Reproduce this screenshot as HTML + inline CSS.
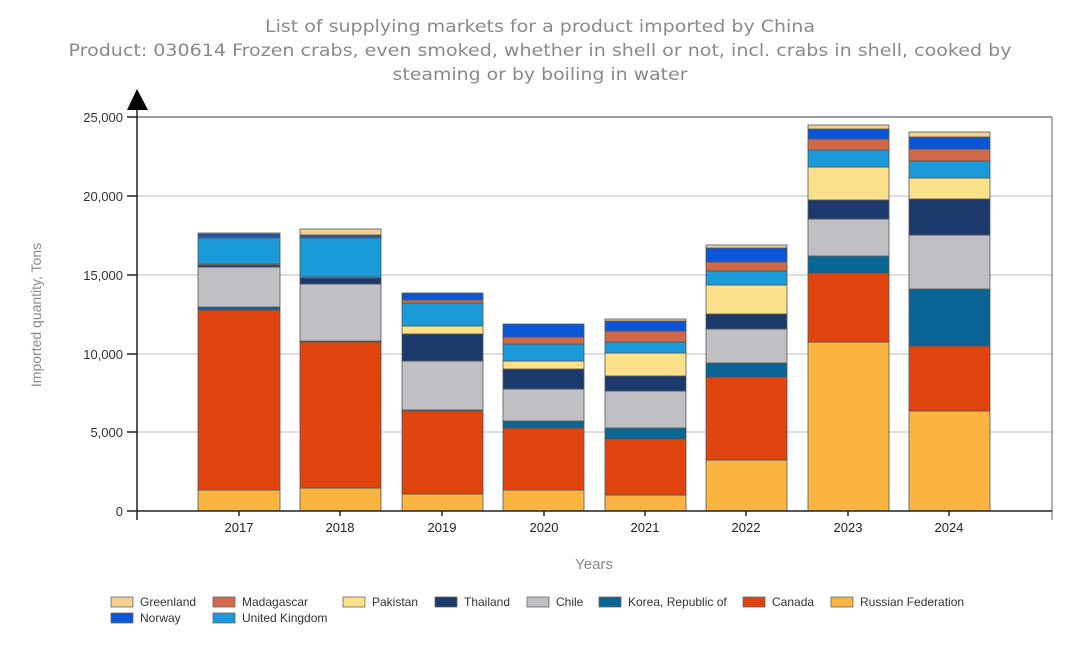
<!DOCTYPE html>
<html><head><meta charset="utf-8"><style>body{margin:0;background:#fff}svg{display:block}</style></head><body>
<svg width="1080" height="648" viewBox="0 0 1080 648" xmlns="http://www.w3.org/2000/svg" font-family="Liberation Sans, sans-serif">
<rect width="1080" height="648" fill="#fff"/>
<g fill="#8a8a8a" font-size="17" font-family="DejaVu Sans, sans-serif" text-anchor="middle">
<text x="540" y="32" textLength="550" lengthAdjust="spacingAndGlyphs">List of supplying markets for a product imported by China</text>
<text x="540" y="56" textLength="943" lengthAdjust="spacingAndGlyphs">Product: 030614 Frozen crabs, even smoked, whether in shell or not, incl. crabs in shell, cooked by</text>
<text x="540" y="80" textLength="295" lengthAdjust="spacingAndGlyphs">steaming or by boiling in water</text>
</g>
<g stroke="#d4d4d4" stroke-width="1.5">
<line x1="137" y1="196" x2="1052" y2="196"/><line x1="137" y1="275" x2="1052" y2="275"/><line x1="137" y1="354" x2="1052" y2="354"/><line x1="137" y1="432" x2="1052" y2="432"/>
</g>
<line x1="137" y1="117" x2="1052" y2="117" stroke="#7a7f8a" stroke-width="1.5"/>
<line x1="1052" y1="117" x2="1052" y2="520" stroke="#7a7f8a" stroke-width="1.2"/>
<g stroke="#555" stroke-width="0.8">
<g fill="#fbb440"><rect x="198" y="490" width="82" height="21"/><rect x="300" y="488" width="81" height="23"/><rect x="402" y="494" width="81" height="17"/><rect x="503" y="490" width="81" height="21"/><rect x="605" y="495" width="81" height="16"/><rect x="706" y="460" width="81" height="51"/><rect x="808" y="342" width="81" height="169"/><rect x="909" y="411" width="81" height="100"/></g>
<g fill="#e0440e"><rect x="198" y="310" width="82" height="180"/><rect x="300" y="342" width="81" height="146"/><rect x="402" y="411" width="81" height="83"/><rect x="503" y="428" width="81" height="62"/><rect x="605" y="439" width="81" height="56"/><rect x="706" y="377" width="81" height="83"/><rect x="808" y="273" width="81" height="69"/><rect x="909" y="346" width="81" height="65"/></g>
<g fill="#0a6595"><rect x="198" y="307" width="82" height="3"/><rect x="300" y="341" width="81" height="1"/><rect x="402" y="410" width="81" height="1"/><rect x="503" y="421" width="81" height="7"/><rect x="605" y="428" width="81" height="11"/><rect x="706" y="363" width="81" height="14"/><rect x="808" y="256" width="81" height="17"/><rect x="909" y="289" width="81" height="57"/></g>
<g fill="#c0c0c4"><rect x="198" y="267" width="82" height="40"/><rect x="300" y="284" width="81" height="57"/><rect x="402" y="361" width="81" height="49"/><rect x="503" y="389" width="81" height="32"/><rect x="605" y="391" width="81" height="37"/><rect x="706" y="329" width="81" height="34"/><rect x="808" y="219" width="81" height="37"/><rect x="909" y="235" width="81" height="54"/></g>
<g fill="#1b3a6b"><rect x="198" y="265" width="82" height="2"/><rect x="300" y="278" width="81" height="6"/><rect x="402" y="334" width="81" height="27"/><rect x="503" y="369" width="81" height="20"/><rect x="605" y="376" width="81" height="15"/><rect x="706" y="314" width="81" height="15"/><rect x="808" y="200" width="81" height="19"/><rect x="909" y="199" width="81" height="36"/></g>
<g fill="#fce18a"><rect x="198" y="264" width="82" height="1"/><rect x="300" y="277" width="81" height="1"/><rect x="402" y="326" width="81" height="8"/><rect x="503" y="361" width="81" height="8"/><rect x="605" y="353" width="81" height="23"/><rect x="706" y="285" width="81" height="29"/><rect x="808" y="167" width="81" height="33"/><rect x="909" y="178" width="81" height="21"/></g>
<g fill="#1a9ad8"><rect x="198" y="238" width="82" height="26"/><rect x="300" y="238" width="81" height="39"/><rect x="402" y="303" width="81" height="23"/><rect x="503" y="344" width="81" height="17"/><rect x="605" y="342" width="81" height="11"/><rect x="706" y="271" width="81" height="14"/><rect x="808" y="150" width="81" height="17"/><rect x="909" y="161" width="81" height="17"/></g>
<g fill="#d0694a"><rect x="198" y="237" width="82" height="1"/><rect x="300" y="237" width="81" height="1"/><rect x="402" y="300" width="81" height="3"/><rect x="503" y="337" width="81" height="7"/><rect x="605" y="331" width="81" height="11"/><rect x="706" y="262" width="81" height="9"/><rect x="808" y="139" width="81" height="11"/><rect x="909" y="149" width="81" height="12"/></g>
<g fill="#0a55d8"><rect x="198" y="234" width="82" height="3"/><rect x="300" y="235" width="81" height="2"/><rect x="402" y="293" width="81" height="7"/><rect x="503" y="324" width="81" height="13"/><rect x="605" y="321" width="81" height="10"/><rect x="706" y="248" width="81" height="14"/><rect x="808" y="129" width="81" height="10"/><rect x="909" y="137" width="81" height="12"/></g>
<g fill="#f2d08f"><rect x="198" y="233" width="82" height="1"/><rect x="300" y="229" width="81" height="6"/><rect x="605" y="319" width="81" height="2"/><rect x="706" y="245" width="81" height="3"/><rect x="808" y="125" width="81" height="4"/><rect x="909" y="132" width="81" height="5"/></g>
</g>
<g stroke="#222" stroke-width="1.5">
<line x1="137" y1="100" x2="137" y2="520"/>
<line x1="127" y1="511" x2="1052" y2="511"/>
<line x1="127" y1="117" x2="137" y2="117"/><line x1="127" y1="196" x2="137" y2="196"/><line x1="127" y1="275" x2="137" y2="275"/><line x1="127" y1="354" x2="137" y2="354"/><line x1="127" y1="432" x2="137" y2="432"/>
<line x1="239" y1="511" x2="239" y2="516"/><line x1="340" y1="511" x2="340" y2="516"/><line x1="442" y1="511" x2="442" y2="516"/><line x1="544" y1="511" x2="544" y2="516"/><line x1="645" y1="511" x2="645" y2="516"/><line x1="746" y1="511" x2="746" y2="516"/><line x1="848" y1="511" x2="848" y2="516"/><line x1="949" y1="511" x2="949" y2="516"/>
</g>
<polygon points="137,89 127,110 148,110" fill="#000"/>
<g font-size="13" fill="#333" text-anchor="end">
<text x="123" y="122">25,000</text><text x="123" y="201">20,000</text><text x="123" y="280">15,000</text><text x="123" y="359">10,000</text><text x="123" y="437">5,000</text><text x="123" y="516">0</text>
</g>
<g font-size="13" fill="#222" text-anchor="middle">
<text x="239" y="532">2017</text><text x="340" y="532">2018</text><text x="442" y="532">2019</text><text x="544" y="532">2020</text><text x="645" y="532">2021</text><text x="746" y="532">2022</text><text x="848" y="532">2023</text><text x="949" y="532">2024</text>
</g>
<text x="594" y="569" font-size="15" fill="#8a8a8a" text-anchor="middle">Years</text>
<text transform="translate(41,315) rotate(-90)" font-size="14" fill="#8a8a8a" text-anchor="middle">Imported quantity, Tons</text>
<g stroke="#666" stroke-width="0.8">
<rect x="111" y="597" width="22" height="10" fill="#f2d08f"/>
<rect x="213" y="597" width="22" height="10" fill="#d0694a"/>
<rect x="343" y="597" width="22" height="10" fill="#fce18a"/>
<rect x="435" y="597" width="22" height="10" fill="#1b3a6b"/>
<rect x="527" y="597" width="22" height="10" fill="#c0c0c4"/>
<rect x="599" y="597" width="22" height="10" fill="#0a6595"/>
<rect x="743" y="597" width="22" height="10" fill="#e0440e"/>
<rect x="831" y="597" width="22" height="10" fill="#fbb440"/>
<rect x="111" y="613" width="22" height="10" fill="#0a55d8"/>
<rect x="213" y="613" width="22" height="10" fill="#1a9ad8"/>
</g>
<g font-size="12" fill="#333">
<text x="140" y="606">Greenland</text><text x="242" y="606">Madagascar</text><text x="372" y="606">Pakistan</text><text x="464" y="606">Thailand</text><text x="556" y="606">Chile</text><text x="628" y="606">Korea, Republic of</text><text x="772" y="606">Canada</text><text x="860" y="606">Russian Federation</text>
<text x="140" y="622">Norway</text><text x="242" y="622">United Kingdom</text>
</g>
</svg>
</body></html>
